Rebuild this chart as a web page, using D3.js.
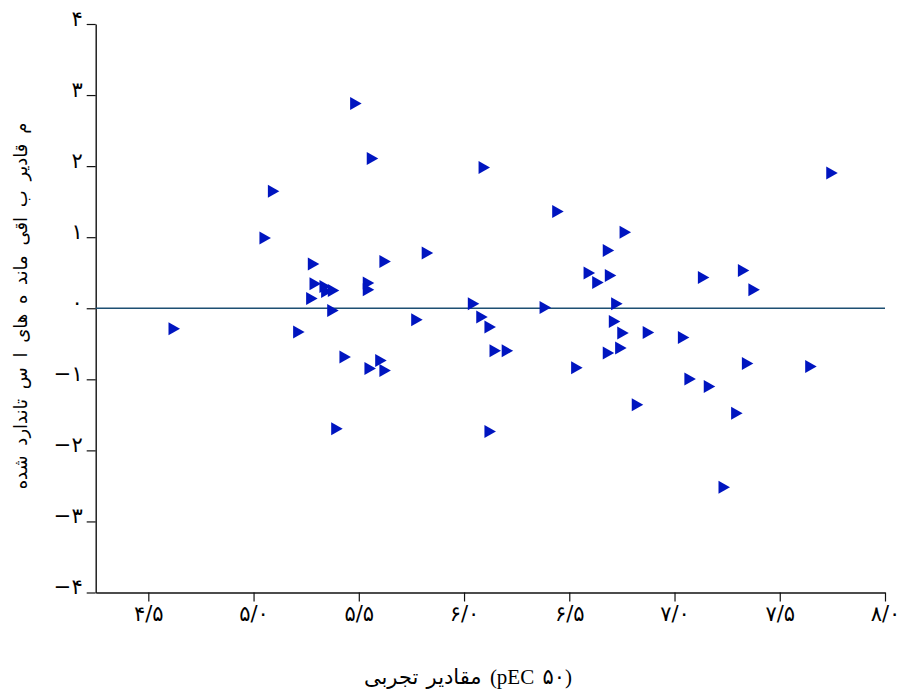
<!DOCTYPE html>
<html>
<head>
<meta charset="utf-8">
<script src="https://cdn.jsdelivr.net/npm/d3@7"></script>
<style>
  html, body { margin: 0; padding: 0; background: #ffffff; }
  svg { display: block; }
</style>
</head>
<body>
<svg id="chart" width="899" height="693"></svg>
<script>
// ---- data ----
const experimental = [
  5.485, 5.564, 6.095, 7.747, 5.094, 6.445, 6.765, 5.054, 6.685, 5.825,
  5.624, 5.284, 6.594, 7.327, 6.695, 7.137, 6.635, 5.292, 5.545, 5.545,
  5.339, 5.347, 5.379, 7.377, 5.276, 6.044, 6.725, 6.385, 5.376, 5.775,
  6.084, 6.123, 6.714, 4.622, 5.214, 6.754, 6.875, 7.042, 6.147, 6.205,
  6.744, 6.685, 5.434, 5.604, 7.346, 7.647, 6.535, 5.553, 5.624, 7.073,
  7.165, 6.823, 7.295, 5.395, 6.123, 7.235
];
const residuals = [
  2.880, 2.106, 1.979, 1.904, 1.645, 1.363, 1.068, 0.989, 0.814, 0.777,
  0.659, 0.623, 0.496, 0.532, 0.462, 0.434, 0.363, 0.345, 0.355, 0.261,
  0.307, 0.237, 0.251, 0.261, 0.138, 0.063, 0.063, 0.011, -0.031, -0.162,
  -0.124, -0.265, -0.186, -0.289, -0.335, -0.349, -0.341, -0.411, -0.599, -0.599,
  -0.561, -0.631, -0.687, -0.735, -0.777, -0.820, -0.838, -0.848, -0.876, -0.997,
  -1.101, -1.359, -1.476, -1.697, -1.735, -2.518
];
const xMajorTicks = [4.5, 5.0, 5.5, 6.0, 6.5, 7.0, 7.5, 8.0];
const yMajorTicks = [-4, -3, -2, -1, 0, 1, 2, 3, 4];
const xTitle = "مقادیر تجربی (pEC ۵۰)";
const yTitle = "م قادیر ب اقی ماند ه های ا س تاندارد شده";

// ---- helpers ----
const faDigits = "۰۱۲۳۴۵۶۷۸۹";
const toFa = s => s.replace(/[0-9]/g, d => faDigits[+d]);
const fmtX = v => toFa(d3.format(".1f")(v)).replace(".", "/");
const fmtY = v => (v < 0 ? "\u2212" : "") + toFa(String(Math.abs(v)));

const svg = d3.select("#chart");
const x = d3.scaleLinear().domain([4.25, 8]).range([95.7, 885]);
const y = d3.scaleLinear().domain([-4, 4]).range([592.5, 24]);

const xMinor = d3.range(43, 81).map(v => v / 10).filter(v => Math.round(v * 10) % 5 !== 0);
const yMinor = d3.range(-20, 21).map(v => v / 5).filter(v => Math.round(v * 5) % 5 !== 0);

const fontTicks = "'DejaVu Sans', sans-serif";

// x axis
const gx = svg.append("g").attr("transform", `translate(0,${y(-4)})`);
gx.call(d3.axisBottom(x).tickValues(xMinor).tickSize(4).tickFormat("").tickSizeOuter(0));
gx.call(d3.axisBottom(x).tickValues(xMajorTicks).tickSize(9).tickFormat(fmtX).tickSizeOuter(0).tickPadding(5));
gx.selectAll(".domain").attr("stroke", "#111").attr("stroke-width", 1.4);
gx.selectAll(".tick line").attr("stroke", "#111").attr("stroke-width", 1.2);
gx.selectAll(".tick text").attr("font-family", fontTicks).attr("font-size", 21).attr("fill", "#000")
  .style("direction", "ltr").style("unicode-bidi", "embed");

// y axis
const gy = svg.append("g").attr("transform", `translate(${x(4.25)},0)`);
gy.call(d3.axisLeft(y).tickValues(yMinor).tickSize(5).tickFormat("").tickSizeOuter(0));
gy.call(d3.axisLeft(y).tickValues(yMajorTicks).tickSize(9).tickFormat(fmtY).tickSizeOuter(0).tickPadding(4));
gy.selectAll(".domain").attr("stroke", "#111").attr("stroke-width", 1.4);
gy.selectAll(".tick line").attr("stroke", "#111").attr("stroke-width", 1.2);
gy.selectAll(".tick text").attr("font-family", fontTicks).attr("font-size", 21).attr("fill", "#000")
  .attr("dy", "0.05em").style("direction", "ltr").style("unicode-bidi", "embed");

// zero reference line
svg.append("line")
  .attr("x1", x(4.25)).attr("x2", x(8))
  .attr("y1", y(0)).attr("y2", y(0))
  .attr("stroke", "#1d4f72").attr("stroke-width", 1.6);

// markers: right-pointing triangles
const tri = {
  draw(ctx) {
    ctx.moveTo(-5.5, -6.5);
    ctx.lineTo(6, 0);
    ctx.lineTo(-5.5, 6.5);
    ctx.closePath();
  }
};
const pts = experimental.map((v, i) => ({ x: v, y: residuals[i] }));
svg.append("g").selectAll("path").data(pts).join("path")
  .attr("d", d3.symbol().type(tri))
  .attr("transform", d => `translate(${x(d.x)},${y(d.y)})`)
  .attr("fill", "#0015c0");

// titles
svg.append("text")
  .attr("x", 468).attr("y", 684)
  .attr("text-anchor", "middle")
  .style("direction", "ltr").style("unicode-bidi", "embed")
  .attr("font-family", "'Liberation Serif', 'DejaVu Sans', serif")
  .attr("font-size", 21)
  .attr("word-spacing", 3)
  .text(xTitle);

svg.append("text")
  .attr("transform", "translate(27,306) rotate(-90)")
  .attr("text-anchor", "middle")
  .attr("font-family", fontTicks)
  .attr("font-size", 18)
  .attr("word-spacing", 4)
  .text(yTitle);
</script>
</body>
</html>
